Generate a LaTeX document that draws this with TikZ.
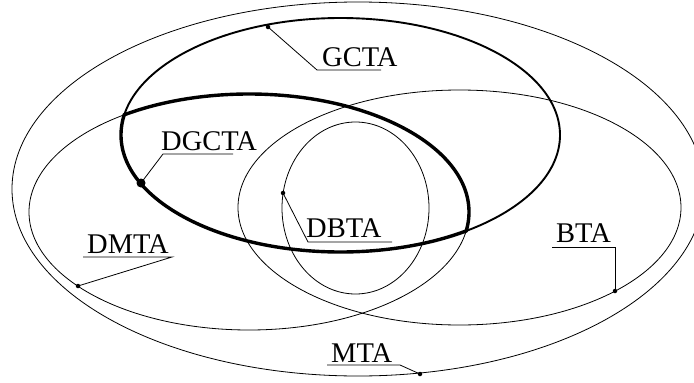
\documentclass[tikz,border=0pt]{standalone}
\usepackage{fontspec}
\setmainfont{Liberation Serif}
\begin{document}
\begin{tikzpicture}[x=1pt,y=-1pt,
  thinline/.style={line width=0.8pt},
  medline/.style={line width=1.9pt},
  thickline/.style={line width=3.4pt},
  lab/.style={inner sep=0pt,anchor=base west,font=\fontsize{28.5}{32}\selectfont},
  leader/.style={line width=0.8pt},
  dotc/.style={fill=black,circle,inner sep=0pt,minimum size=4.5pt},
  bigdot/.style={fill=black,circle,inner sep=0pt,minimum size=9pt}]
\useasboundingbox (0,0) rectangle (694,383);
\clip (0,0) rectangle (694,383);
% ellipses
\draw[thinline] (358,189) ellipse [x radius=346pt, y radius=187pt]; % MTA
\draw[thinline] (249,212) ellipse [x radius=220pt, y radius=118pt]; % DMTA
\draw[thinline] (459.5,207.5) ellipse [x radius=221.5pt, y radius=117.5pt]; % BTA
\draw[thinline] (355.5,208) ellipse [x radius=73.5pt, y radius=86pt]; % DBTA
\draw[medline] (340.5,135) ellipse [x radius=219.5pt, y radius=117pt]; % GCTA
% DGCTA = boundary of GCTA and DMTA intersection
\begin{scope}
  \clip (249,212) ellipse [x radius=221.5pt, y radius=119.5pt];
  \draw[thickline] (340.5,135) ellipse [x radius=219.5pt, y radius=117pt];
\end{scope}
\begin{scope}
  \clip (340.5,135) ellipse [x radius=221pt, y radius=118.5pt];
  \draw[thickline] (249,212) ellipse [x radius=220pt, y radius=118pt];
\end{scope}
% dots
\node[dotc] (pg) at (268,27) {};
\node[bigdot] (pdg) at (141,183) {};
\node[dotc] (pdb) at (283,193) {};
\node[dotc] (pdm) at (78,286) {};
\node[dotc] (pb) at (615,291) {};
\node[dotc] (pm) at (420,374) {};
% labels
\node[lab] (tg) at (322,66) {GCTA};
\node[lab] (tdg) at (161,150) {DGCTA};
\node[lab] (tdb) at (306,237) {DBTA};
\node[lab] (tdm) at (87,253) {DMTA};
\node[lab] (tb) at (556,242) {BTA};
\node[lab] (tm) at (331,362) {MTA};
% underline ends
\coordinate (g1) at (317,70);  \coordinate (g2) at (381,70);
\coordinate (dg1) at (163,154); \coordinate (dg2) at (233,154);
\coordinate (db1) at (308,242); \coordinate (db2) at (392,242);
\coordinate (dm1) at (83,257);  \coordinate (dm2) at (172,257);
\coordinate (b1) at (552,247);  \coordinate (b2) at (615,247);
\coordinate (m1) at (327,365);  \coordinate (m2) at (400,365);
% leaders
\draw[leader] (pg.center) -- (g1) -- (g2);
\draw[leader] (pdg.center) -- (dg1) -- (dg2);
\draw[leader] (pdb.center) -- (db1) -- (db2);
\draw[leader] (pdm.center) -- (dm2) -- (dm1);
\draw[leader] (pb.center) -- (b2) -- (b1);
\draw[leader] (pm.center) -- (m2) -- (m1);
\end{tikzpicture}
\end{document}
